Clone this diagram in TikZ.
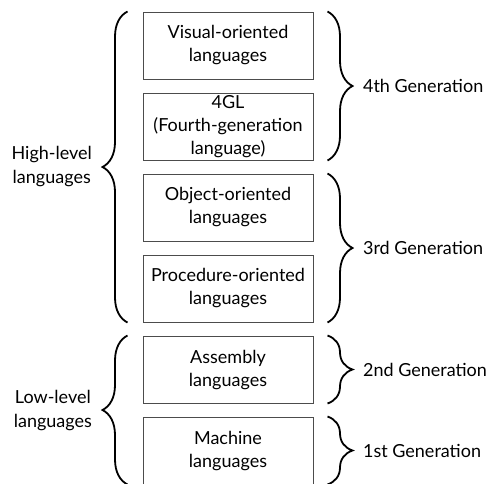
\documentclass[tikz,border=0pt]{standalone}
\usepackage{fontspec}
\setmainfont{Lato}
\usetikzlibrary{decorations.pathreplacing}

\tikzset{
  langbox/.style={draw=black!70, line width=0.5pt, minimum width=85pt, minimum height=33.5pt,
    align=center, inner sep=1pt, font=\fontsize{9}{11.5}\selectfont},
  brc/.style={decorate, decoration={brace, amplitude=12.5pt}, line width=0.9pt},
  genlabel/.style={font=\fontsize{9}{12}\selectfont, align=center}
}

\begin{document}
\begin{tikzpicture}[x=0.5pt, y=-0.5pt]
\useasboundingbox (0,0) rectangle (490,483);
\clip (0,0) rectangle (490,483);
% language boxes
\node[langbox] (vis) at (228,45.5) {Visual-oriented\\languages};
\node[langbox] (fgl) at (228,126.5) {4GL\\(Fourth-generation\\language)};
\node[langbox] (obj) at (228,207.5) {Object-oriented\\languages};
\node[langbox] (proc) at (228,288.5) {Procedure-oriented\\languages};
\node[langbox] (asm) at (228,369.5) {Assembly\\languages};
\node[langbox] (mach) at (228,450.5) {Machine\\languages};
% left braces
\draw[brc] ([xshift=-7.5pt]proc.south west) -- ([xshift=-7.5pt]vis.north west)
  node[midway, genlabel, left=14pt] (high) {High-level\\languages};
\draw[brc] ([xshift=-7.5pt]mach.south west) -- ([xshift=-7.5pt]asm.north west)
  node[midway, genlabel, left=14pt] (low) {Low-level\\languages};
% right braces
\draw[brc] ([xshift=7pt]vis.north east) -- ([xshift=7pt]fgl.south east)
  node[midway, genlabel, right=14pt] (gen4) {4th Generation};
\draw[brc] ([xshift=7pt]obj.north east) -- ([xshift=7pt]proc.south east)
  node[midway, genlabel, right=14pt] (gen3) {3rd Generation};
\draw[brc] ([xshift=7pt]asm.north east) -- ([xshift=7pt]asm.south east)
  node[midway, genlabel, right=14pt] (gen2) {2nd Generation};
\draw[brc] ([xshift=7pt]mach.north east) -- ([xshift=7pt]mach.south east)
  node[midway, genlabel, right=14pt] (gen1) {1st Generation};
\end{tikzpicture}
\end{document}
